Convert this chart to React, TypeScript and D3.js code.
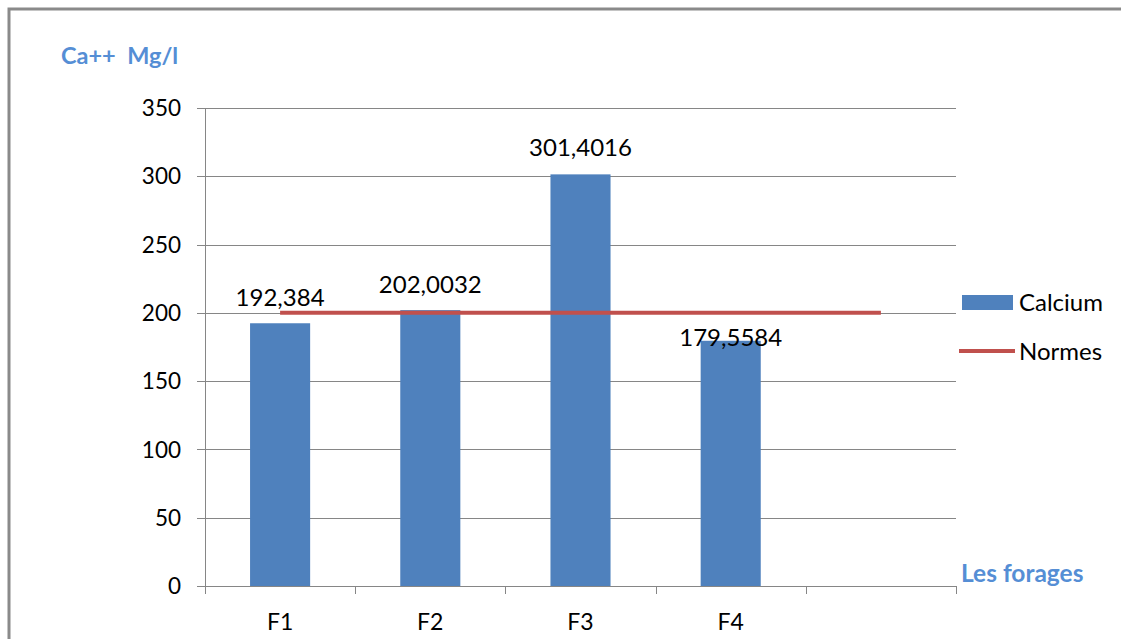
import React from "react";
import * as d3 from "d3";

const categories = ["F1", "F2", "F3", "F4", ""];
const calcium = [192.384, 202.0032, 301.4016, 179.5584];
const calciumLabels = ["192,384", "202,0032", "301,4016", "179,5584"];
const normes = [200, 200, 200, 200, 200];
const yTicks = [0, 50, 100, 150, 200, 250, 300, 350];

const W = 1121;
const H = 639;
const M = { left: 205, right: 956, top: 108, bottom: 586 };
const FONT = "Lato, 'Open Sans', sans-serif";
const BLUE = "#4F81BD";
const RED = "#C0504D";
const GRID = "#868686";
const TITLE = "#558ED5";

export default function App() {
  const keys = categories.map((c, i) => c || `_${i}`);
  const x = d3.scaleBand<string>().domain(keys).range([M.left, M.right]).padding(0);
  const y = d3.scaleLinear().domain([0, 350]).range([M.bottom, M.top]);
  const bw = x.bandwidth() * 0.4;
  const line = d3
    .line<number>()
    .x((_, i) => (x(keys[i]) as number) + x.bandwidth() / 2)
    .y((d) => y(d));
  const labelOffsets = [-26, -26, -27, -3];
  const boundaries = keys.map((k) => x(k) as number).concat([M.right]);

  return (
    <svg width={W} height={H} style={{ position: "absolute", left: 0, top: 0, background: "#fff" }} fontFamily={FONT}>
      <rect x={9} y={9} width={W + 20} height={H + 20} fill="#fff" stroke="#8a8a8a" strokeWidth={3} />
      {yTicks.map((t) => (
        <g key={t}>
          <line x1={197} x2={M.right} y1={Math.round(y(t)) + 0.5} y2={Math.round(y(t)) + 0.5} stroke={GRID} strokeWidth={1} />
          <text x={181} y={y(t)} dy="0.36em" textAnchor="end" fontSize={22.5} fill="#000">
            {t}
          </text>
        </g>
      ))}
      <line x1={M.left + 0.5} x2={M.left + 0.5} y1={M.top} y2={M.bottom} stroke={GRID} />
      {boundaries.map((b, i) => (
        <line key={i} x1={Math.round(b) + 0.5} x2={Math.round(b) + 0.5} y1={M.bottom} y2={M.bottom + 8} stroke={GRID} />
      ))}
      {calcium.map((v, i) => {
        const cx = (x(keys[i]) as number) + x.bandwidth() / 2;
        return <rect key={i} x={cx - bw / 2} y={y(v)} width={bw} height={y(0) - y(v)} fill={BLUE} />;
      })}
      <path d={line(normes) || ""} fill="none" stroke={RED} strokeWidth={4} />
      {calcium.map((v, i) => {
        const cx = (x(keys[i]) as number) + x.bandwidth() / 2;
        return (
          <text key={i} x={cx} y={y(v) + labelOffsets[i]} dy="0.36em" textAnchor="middle" fontSize={24} fill="#000">
            {calciumLabels[i]}
          </text>
        );
      })}
      {categories.map((c, i) => (
        <text key={i} x={(x(keys[i]) as number) + x.bandwidth() / 2} y={622} dy="0.36em" textAnchor="middle" fontSize={23} fill="#000">
          {c}
        </text>
      ))}
      <text x={61} y={56} dy="0.36em" fontSize={23.5} fontWeight="bold" fill={TITLE} style={{ whiteSpace: "pre" }}>
        {"Ca++  Mg/l"}
      </text>
      <text x={961} y={573} dy="0.36em" fontSize={24.5} fontWeight="bold" fill={TITLE}>
        Les forages
      </text>
      <rect x={962} y={295} width={51} height={15} fill={BLUE} />
      <text x={1019} y={302} dy="0.36em" fontSize={24} fill="#000">
        Calcium
      </text>
      <line x1={959} x2={1015} y1={351} y2={351} stroke={RED} strokeWidth={4} />
      <text x={1019} y={351} dy="0.36em" fontSize={24} fill="#000">
        Normes
      </text>
    </svg>
  );
}
